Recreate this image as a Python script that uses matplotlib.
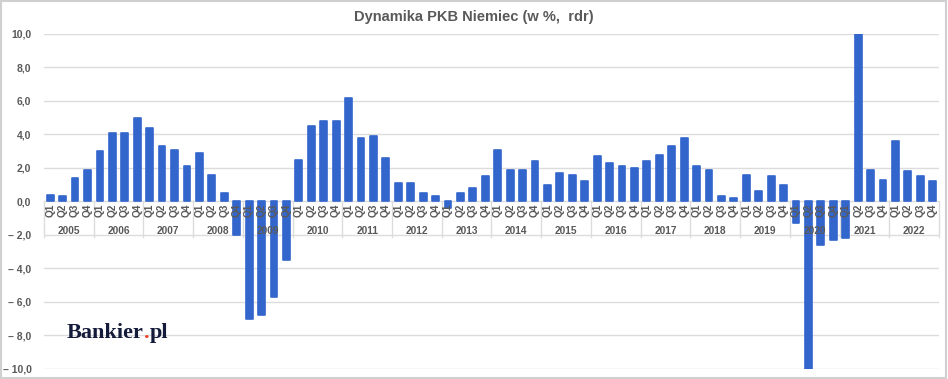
# Dynamika PKB Niemiec (w %, rdr) - kwartalnie 2005-2022

import numpy as np
import matplotlib
matplotlib.use("Agg")
import matplotlib.pyplot as plt
from matplotlib.patches import Rectangle

plt.rcParams['font.family'] = ['Liberation Sans', 'DejaVu Sans']

lata = [str(r) for r in range(2005, 2023)]                                      # years on the lower axis level
kwartaly = ["Q1", "Q2", "Q3", "Q4"]                                             # quarter labels

dynamika = [0.4, 0.3, 1.4, 1.9,                                                 # 2005
            3.0, 4.1, 4.1, 5.0,                                                 # 2006
            4.4, 3.3, 3.1, 2.1,                                                 # 2007
            2.9, 1.6, 0.5, -2.0,                                                # 2008
            -7.0, -6.8, -5.7, -3.5,                                             # 2009
            2.5, 4.5, 4.8, 4.8,                                                 # 2010
            6.2, 3.8, 3.9, 2.6,                                                 # 2011
            1.1, 1.1, 0.5, 0.3,                                                 # 2012
            -0.4, 0.5, 0.8, 1.5,                                                # 2013
            3.1, 1.9, 1.9, 2.4,                                                 # 2014
            1.0, 1.7, 1.6, 1.2,                                                 # 2015
            2.7, 2.3, 2.1, 2.0,                                                 # 2016
            2.4, 2.8, 3.3, 3.8,                                                 # 2017
            2.1, 1.9, 0.3, 0.2,                                                 # 2018
            1.6, 0.6, 1.5, 1.0,                                                 # 2019
            -1.3, -11.3, -2.6, -2.3,                                            # 2020
            -2.2, 10.4, 1.9, 1.3,                                               # 2021
            3.6, 1.8, 1.5, 1.2]                                                 # 2022

y_ticks = [10, 8, 6, 4, 2, 0, -2, -4, -6, -8, -10]                              # value axis ticks

niebieski = "#3366cc"                                                           # bar colour
szary = "#595959"                                                               # text colour
granat = "#141a3a"                                                              # logo colour

fig = plt.figure(figsize=(9.48, 3.79), dpi=100)
ax = fig.add_axes([0.0464, 0.0264, 0.9441, 0.8839])

x = np.arange(len(dynamika))
ax.bar(x, dynamika, width=0.55, color=niebieski, edgecolor=niebieski,
       linewidth=1.2, joinstyle="round", zorder=2)

ax.set_xlim(-0.5, len(dynamika) - 0.5)
ax.set_ylim(-10, 10)
ax.set_yticks(y_ticks)
ax.set_yticklabels([("– " if t < 0 else "") + f"{abs(t):.1f}".replace(".", ",")
                    for t in y_ticks], fontsize=7.5, color=szary, fontweight="bold")
ax.tick_params(axis="y", length=0, pad=9)
ax.set_xticks([])
ax.grid(axis="y", color="#dcdcdc", linewidth=1, zorder=0)
for s in ax.spines.values():
    s.set_visible(False)

# multi-level category axis drawn just under the zero line
for i in x:
    ax.text(i, -0.13, kwartaly[i % 4], rotation=90, ha="center", va="top",
            fontsize=7.3, color=szary, fontweight="bold", zorder=3)
for k, rok in enumerate(lata):
    ax.text(4 * k + 1.5, -1.75, rok, ha="center", va="center",
            fontsize=7.3, color=szary, fontweight="bold", zorder=3)
for k in range(len(lata) + 1):
    ax.plot([4 * k - 0.5, 4 * k - 0.5], [0, -2.1], color="#dcdcdc",
            linewidth=1, zorder=1, clip_on=False)

fig.text(0.5, 0.955, "Dynamika PKB Niemiec (w %,  rdr)", ha="center", va="center",
         fontsize=10.5, fontweight="bold", color=szary)

# Bankier.pl logo - white patch hides the -8 gridline behind it
ax.add_patch(Rectangle((-0.5, -8.5), 11.7, 1.0, facecolor="white",
                       edgecolor="none", zorder=1))
czesci = [("Bankier", granat), (".", "#e8442c"), ("pl", granat)]
fig.canvas.draw()
poz = 1.35
for tekst, kolor in czesci:
    t = ax.text(poz, -7.85, tekst, fontsize=16, fontweight="bold",
                family="Liberation Serif", color=kolor, va="center", zorder=4)
    ext = t.get_window_extent(renderer=fig.canvas.get_renderer())
    poz = ax.transData.inverted().transform((ext.x1, 0))[0]

fig.patches.append(Rectangle((0.001, 0.002), 0.997, 0.995, transform=fig.transFigure,
                             fill=False, edgecolor="#d0d0d0", linewidth=1.5))

plt.savefig("out.png", dpi=100)
